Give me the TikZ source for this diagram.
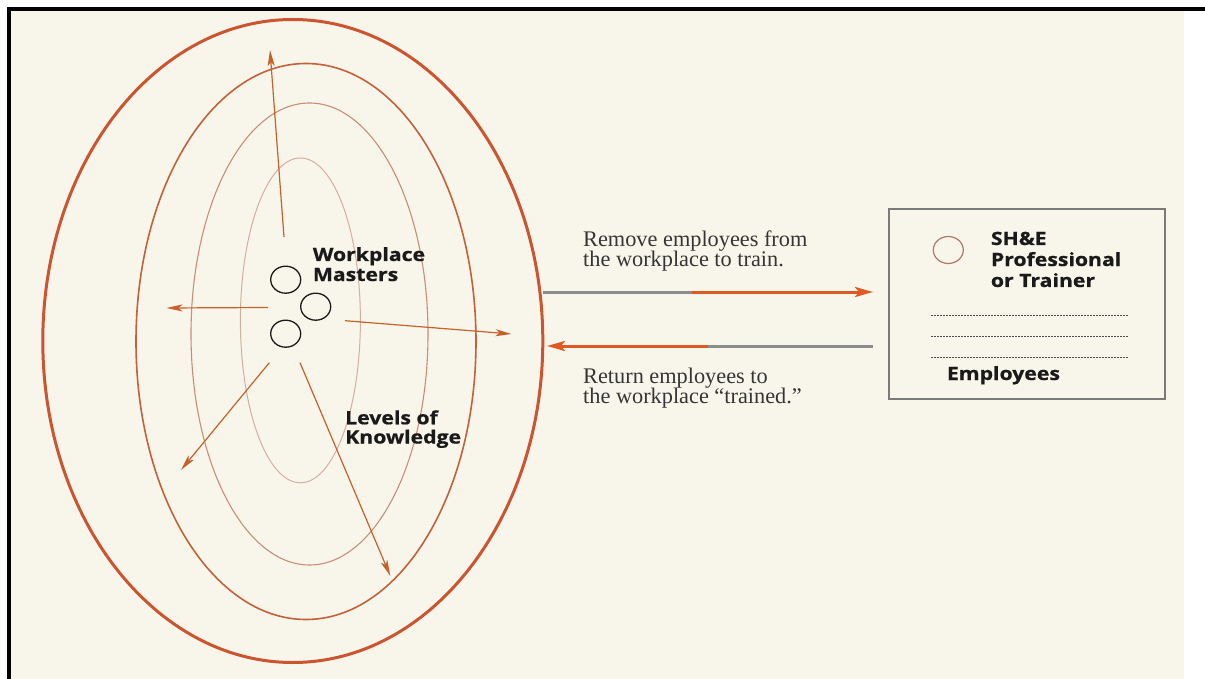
\documentclass[tikz,border=0pt]{standalone}
\usepackage{fontspec}
\setmainfont{Liberation Serif}
\newfontfamily\labelsans[FakeStretch=1.16, BoldFeatures={FakeBold=0.7}]{Open Sans}
\usetikzlibrary{arrows.meta,shapes.geometric}
\definecolor{cream}{HTML}{F8F6EA}
\definecolor{ink}{HTML}{1A1A1A}
\definecolor{serifgray}{HTML}{353535}
\definecolor{ringA}{HTML}{CB5530}
\definecolor{ringB}{HTML}{C4603A}
\definecolor{ringC}{HTML}{C98D78}
\definecolor{ringD}{HTML}{D6ADA0}
\definecolor{arroworange}{HTML}{C9602C}
\definecolor{flowgray}{HTML}{8C8C8C}
\definecolor{floworange}{HTML}{DD5A22}
\definecolor{boxgray}{HTML}{7A7A7A}
\definecolor{boxcircle}{HTML}{B07868}
\begin{document}
\begin{tikzpicture}[x=1pt,y=-1pt,
  serif/.style={anchor=base west, inner sep=0pt, font=\fontsize{22.3}{22}\selectfont, text=serifgray},
  boldlabel/.style={anchor=base west, inner sep=0pt, font=\labelsans\bfseries\fontsize{18.3}{18}\selectfont, text=ink},
  master/.style={ellipse, draw=ink, line width=1.3pt, minimum width=30pt, minimum height=27pt, inner sep=0pt},
  spread/.style={draw=arroworange, line width=1.2pt, -{Stealth[length=16pt,width=7pt,inset=4pt]}},
  flowgrey/.style={draw=flowgray, line width=3pt},
  floworng/.style={draw=floworange, line width=3pt},
  flowtip/.style={-{Stealth[length=18pt,width=10pt,inset=4pt]}},
  dotline/.style={draw=black!70, line width=1pt, dash pattern=on 1.6pt off 1.4pt},
  trainbox/.style={draw=boxgray, line width=2pt, minimum width=276pt, minimum height=190pt, inner sep=0pt},
  trainer/.style={ellipse, draw=boxcircle, line width=1.2pt, minimum width=30pt, minimum height=27pt, inner sep=0pt}
]
\useasboundingbox (0,0) rectangle (1205,679);
% background and frame
\fill[white] (0,0) rectangle (1205,679);
\fill[cream] (11,11) rectangle (1184,679);
\draw[black, line width=4pt] (9,679) -- (9,9) -- (1205,9);

% concentric levels
\draw[ringA, line width=3pt] (292.8,341) ellipse [x radius=250, y radius=321.5];
\draw[ringB, line width=1.6pt] (306,341.5) ellipse [x radius=170, y radius=278];
\draw[ringC, line width=1.1pt] (309.5,334) ellipse [x radius=118.5, y radius=231];
\draw[ringD, line width=1pt] (300.4,320.4) ellipse [x radius=60, y radius=162.4];

% workplace masters
\node[master] (m1) at (285.7,279.7) {};
\node[master] (m2) at (315.7,306.7) {};
\node[master] (m3) at (285.7,333.7) {};

% spreading arrows
\coordinate (upS) at (284,237);   \coordinate (upE) at (270,50);
\coordinate (lfS) at (268,307.5); \coordinate (lfE) at (166.5,308);
\coordinate (rtS) at (345,320.7); \coordinate (rtE) at (511.5,334);
\coordinate (llS) at (269.3,362.7); \coordinate (llE) at (181,470);
\coordinate (lrS) at (300,362.7); \coordinate (lrE) at (390.3,576);
\draw[spread] (upS) -- (upE);
\draw[spread] (lfS) -- (lfE);
\draw[spread] (rtS) -- (rtE);
\draw[spread] (llS) -- (llE);
\draw[spread] (lrS) -- (lrE);

% labels left
\node[boldlabel] (wp1) at (312.7,261) {Workplace};
\node[boldlabel] (wp2) at (312.7,281) {Masters};
\node[boldlabel] (lk1) at (345,424.3) {Levels of};
\node[boldlabel] (lk2) at (345,443.5) {Knowledge};

% trainer box
\node[trainbox] (box) at (1027,304) {};
\node[trainer] (tr) at (948.3,250) {};
\node[boldlabel] (sh1) at (990.7,245) {SH\&E};
\node[boldlabel] (sh2) at (990.7,266) {Professional};
\node[boldlabel] (sh3) at (990.7,287) {or Trainer};
\coordinate (d1a) at (931,315);   \coordinate (d1b) at (1128,315);
\coordinate (d2a) at (931,336.7); \coordinate (d2b) at (1128,336.7);
\coordinate (d3a) at (931,357.7); \coordinate (d3b) at (1128,357.7);
\draw[dotline] (d1a) -- (d1b);
\draw[dotline] (d2a) -- (d2b);
\draw[dotline] (d3a) -- (d3b);
\node[boldlabel] (emp) at (946.7,380) {Employees};

% flow arrows
\coordinate (outA) at (543,292); \coordinate (midA) at (692,292); \coordinate (inA) at (873,292);
\coordinate (inB) at (873,346);  \coordinate (midB) at (708,346); \coordinate (outB) at (547,346);
\draw[flowgrey] (outA) -- (midA);
\draw[floworng, flowtip] (midA) -- (inA);
\draw[flowgrey] (inB) -- (midB);
\draw[floworng, flowtip] (midB) -- (outB);

\node[serif] (rm1) at (583,246.7) {Remove employees from};
\node[serif] (rm2) at (583,266.7) {the workplace to train.};
\node[serif] (rt1) at (583,383) {Return employees to};
\node[serif] (rt2) at (583,403) {the workplace “trained.”};
\end{tikzpicture}
\end{document}
